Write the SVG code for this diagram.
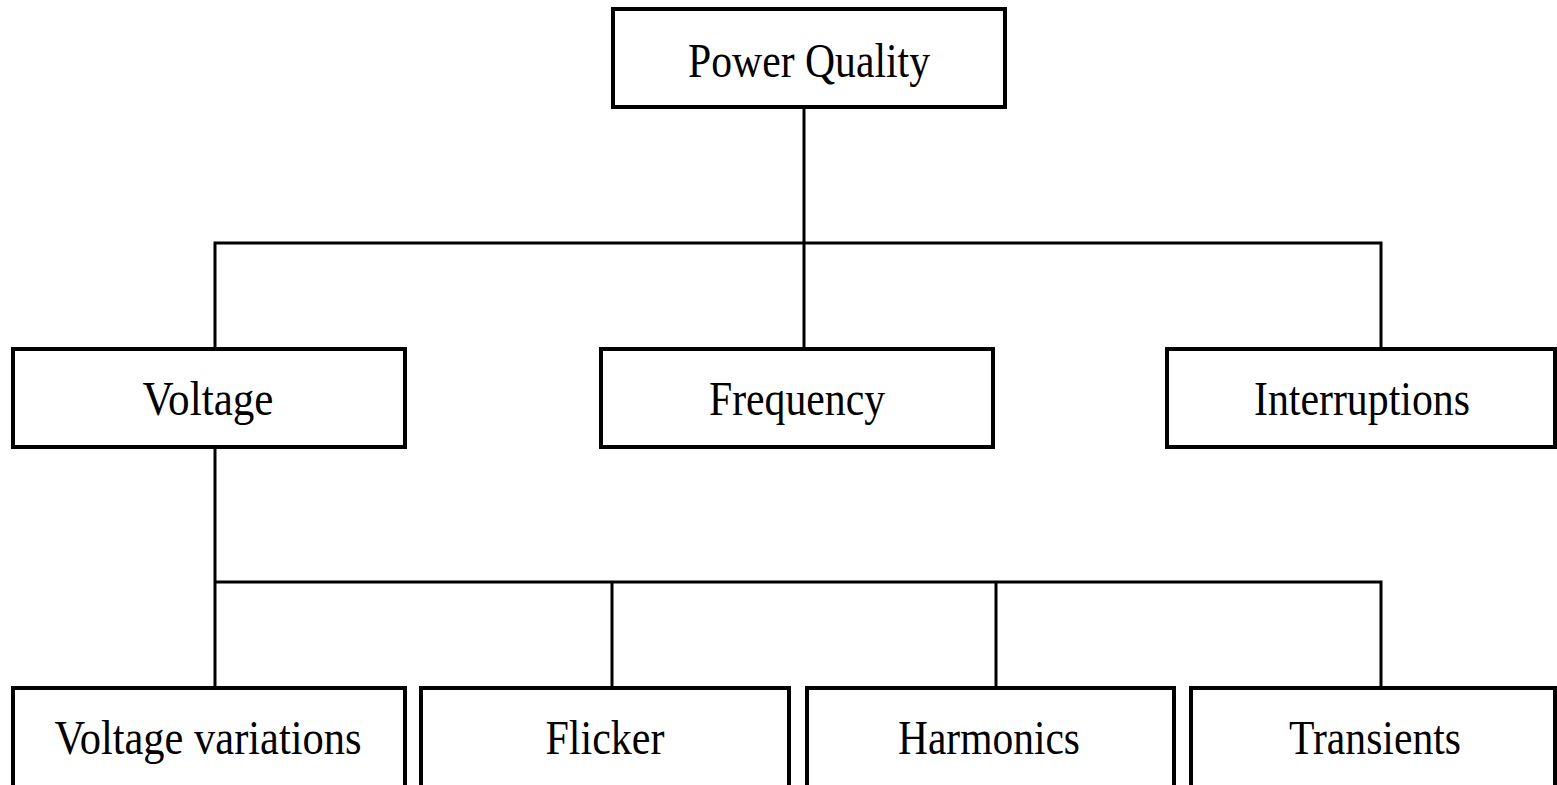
<svg xmlns="http://www.w3.org/2000/svg" width="1557" height="785" viewBox="0 0 1557 785">
<style>
.box{fill:#fff;stroke:#000;stroke-width:4}
.lbl{font-family:"Liberation Serif","Times New Roman",serif;font-size:48px;fill:#000;text-anchor:middle}
.con{fill:none;stroke:#000;stroke-width:3}
</style>
<rect width="1557" height="785" fill="#fff"/>
<g id="connectors">
<path class="con" d="M804,107 V243"/>
<path class="con" d="M215,349 V243 H1381 V349"/>
<path class="con" d="M804,243 V349"/>
<path class="con" d="M215,447 V688"/>
<path class="con" d="M215,582 H1381 V688"/>
<path class="con" d="M612,582 V688"/>
<path class="con" d="M996,582 V688"/>
</g>
<g id="power-quality">
<rect class="box" x="613" y="9" width="392" height="98"/>
<text class="lbl" x="809" y="77" textLength="242" lengthAdjust="spacingAndGlyphs">Power Quality</text>
</g>
<g id="voltage">
<rect class="box" x="13" y="349" width="392" height="98"/>
<text class="lbl" x="208" y="415" textLength="131" lengthAdjust="spacingAndGlyphs">Voltage</text>
</g>
<g id="frequency">
<rect class="box" x="601" y="349" width="392" height="98"/>
<text class="lbl" x="797" y="415" textLength="176" lengthAdjust="spacingAndGlyphs">Frequency</text>
</g>
<g id="interruptions">
<rect class="box" x="1167" y="349" width="388" height="98"/>
<text class="lbl" x="1362" y="415" textLength="216" lengthAdjust="spacingAndGlyphs">Interruptions</text>
</g>
<g id="voltage-variations">
<rect class="box" x="13" y="688" width="392" height="110"/>
<text class="lbl" x="208" y="754" textLength="307" lengthAdjust="spacingAndGlyphs">Voltage variations</text>
</g>
<g id="flicker">
<rect class="box" x="421" y="688" width="368" height="110"/>
<text class="lbl" x="605" y="754" textLength="119" lengthAdjust="spacingAndGlyphs">Flicker</text>
</g>
<g id="harmonics">
<rect class="box" x="807" y="688" width="367" height="110"/>
<text class="lbl" x="989" y="754" textLength="182" lengthAdjust="spacingAndGlyphs">Harmonics</text>
</g>
<g id="transients">
<rect class="box" x="1191" y="688" width="364" height="110"/>
<text class="lbl" x="1375" y="754" textLength="172" lengthAdjust="spacingAndGlyphs">Transients</text>
</g>
</svg>
